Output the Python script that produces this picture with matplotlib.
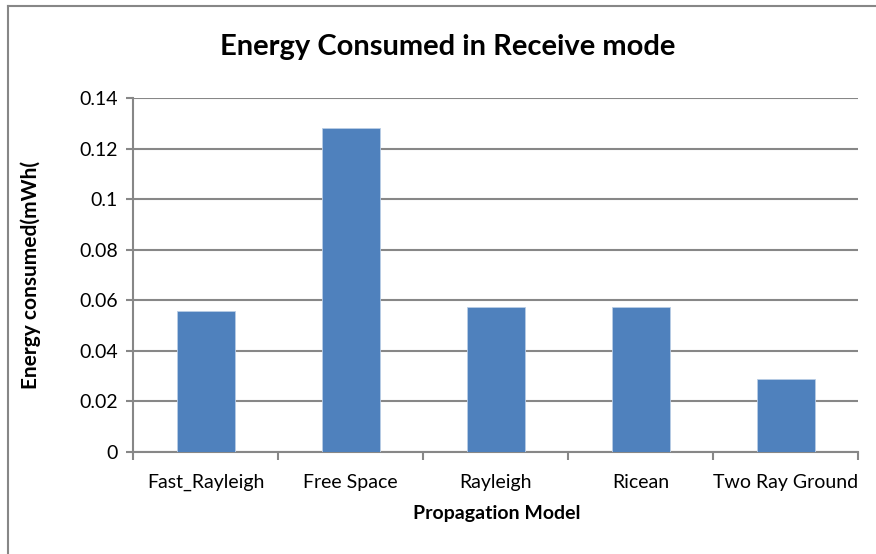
import matplotlib.pyplot as plt
from matplotlib.lines import Line2D

plt.rcParams['font.family'] = ['Lato', 'DejaVu Sans']

models = ['Fast_Rayleigh', 'Free Space', 'Rayleigh', 'Ricean', 'Two Ray Ground']
energy = [0.0556, 0.1283, 0.0573, 0.0573, 0.0290]
y_ticks = [0, 0.02, 0.04, 0.06, 0.08, 0.1, 0.12, 0.14]
y_labels = ['0', '0.02', '0.04', '0.06', '0.08', '0.1', '0.12', '0.14']

W, H = 876, 554
fig = plt.figure(figsize=(W / 100, H / 100), dpi=100)
ax = fig.add_axes([133 / W, 1 - 452 / H, (858 - 133) / W, (452 - 98) / H])

x = list(range(len(models)))
ax.bar(x, energy, width=0.4, color='#4F81BD', edgecolor='#B9CDE5', linewidth=0.6, zorder=3)

ax.set_xlim(-0.5, len(models) - 0.5)
ax.set_ylim(0, 0.14)
ax.set_yticks(y_ticks)
ax.set_yticklabels(y_labels)
ax.set_xticks(x)
ax.set_xticklabels(models)
ax.yaxis.grid(True, color='#878787', linewidth=1.5, zorder=0)

for s in ['top', 'right']:
    ax.spines[s].set_visible(False)
for s in ['left', 'bottom']:
    ax.spines[s].set_color('#878787')
    ax.spines[s].set_linewidth(1.5)

# tick marks on category boundaries, labels centred under the bars
ax.set_xticks([i - 0.5 for i in range(len(models) + 1)], minor=True)
ax.tick_params(axis='x', which='major', length=0, pad=16, labelsize=14)
ax.tick_params(axis='x', which='minor', length=6, width=1.5, color='#878787')
ax.tick_params(axis='y', length=5, width=1.5, color='#878787', labelsize=14, pad=6)

fig.text(448 / W, 1 - 47 / H, 'Energy Consumed in Receive mode',
         fontsize=21, fontweight='bold', ha='center', va='center')
fig.text(497 / W, 1 - 514 / H, 'Propagation Model',
         fontsize=14, fontweight='bold', ha='center', va='center')
fig.text(31 / W, 1 - 275 / H, 'Energy consumed(mWh(',
         fontsize=15, fontweight='bold', ha='center', va='center', rotation=90)

# outer chart frame
fig.add_artist(Line2D([8 / W, 1], [1 - 6 / H, 1 - 6 / H], color='#878787', lw=1.5))
fig.add_artist(Line2D([8 / W, 8 / W], [0, 1 - 6 / H], color='#878787', lw=1.5))

plt.savefig('out.png', dpi=100)
